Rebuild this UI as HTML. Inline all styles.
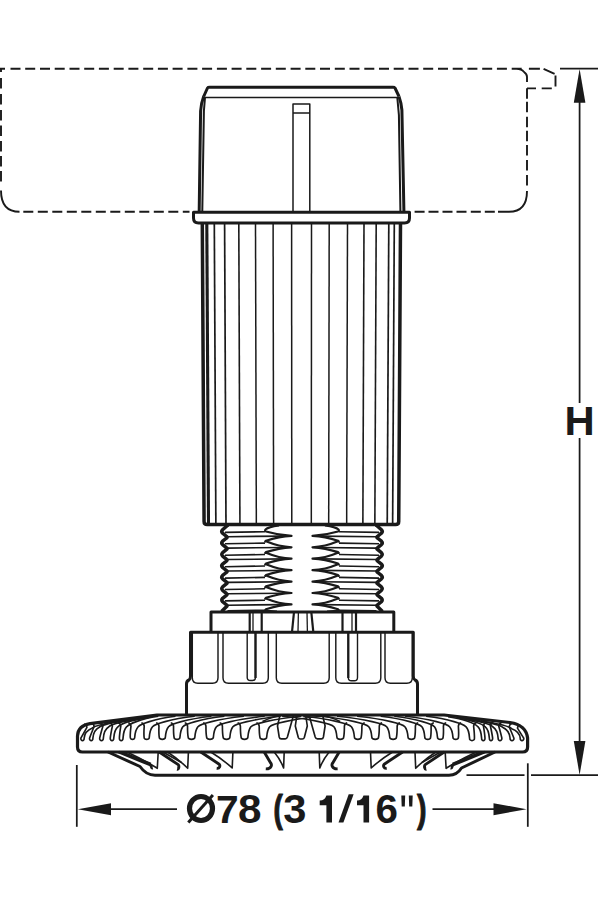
<!DOCTYPE html>
<html><head><meta charset="utf-8"><style>
html,body{margin:0;padding:0;background:#fff;width:600px;height:900px;overflow:hidden;}
svg{display:block;}
</style></head><body>
<svg width="600" height="900" viewBox="0 0 600 900" fill="none" stroke="#1a1a1a" stroke-linecap="butt" stroke-linejoin="round">
<path stroke-width="1.9" d="M0,68.8 L5,68.8 M1.0,67.9 L1.0,72 M10.5,68.8 L20.5,68.8 M25.2,68.8 L35.2,68.8 M40.0,68.8 L50.0,68.8 M54.7,68.8 L64.7,68.8 M69.5,68.8 L79.5,68.8 M84.2,68.8 L94.2,68.8 M98.9,68.8 L108.9,68.8 M113.7,68.8 L123.7,68.8 M128.4,68.8 L138.4,68.8 M143.2,68.8 L153.2,68.8 M157.9,68.8 L167.9,68.8 M172.6,68.8 L182.6,68.8 M187.4,68.8 L197.4,68.8 M202.1,68.8 L212.1,68.8 M216.9,68.8 L226.9,68.8 M231.6,68.8 L241.6,68.8 M246.3,68.8 L256.3,68.8 M261.1,68.8 L271.1,68.8 M275.8,68.8 L285.8,68.8 M290.6,68.8 L300.6,68.8 M305.3,68.8 L315.3,68.8 M320.0,68.8 L330.0,68.8 M334.8,68.8 L344.8,68.8 M349.5,68.8 L359.5,68.8 M364.3,68.8 L374.3,68.8 M379.0,68.8 L389.0,68.8 M393.7,68.8 L403.7,68.8 M408.5,68.8 L418.5,68.8 M423.2,68.8 L433.2,68.8 M438.0,68.8 L448.0,68.8 M452.7,68.8 L462.7,68.8 M467.4,68.8 L477.4,68.8 M482.2,68.8 L492.2,68.8 M496.9,68.8 L506.9,68.8 M511.7,68.8 L521.7,68.8 M516.5,68.8 Q521.5,68.8 524,72 M528.9,68.8 L539.9,68.8 M543.6,68.8 L554.6,73.8 M555.5,75.6 L555.5,86.6 M541.7,88.4 L551.8,88.4 M527,88.4 L536,88.4 M524,72 Q527,74 527,77 L527,82 M527.0,88.3 L527.0,98.8 M527.0,101.7 L527.0,112.2 M527.0,116.7 L527.0,127.2 M527.0,130.8 L527.0,141.3 M527.0,145.0 L527.0,155.5 M527.0,160.0 L527.0,170.5 M527.0,175.0 L527.0,185.5 M527.0,191 Q527.0,211.8 509,211.8 M1.0,78.0 L1.0,88.5 M1.0,94.0 L1.0,104.5 M1.0,110.0 L1.0,120.5 M1.0,125.5 L1.0,136.0 M1.0,141.0 L1.0,151.5 M1.0,156.0 L1.0,166.5 M1.0,171.0 L1.0,181.5 M1.0,190.5 Q1.0,211.8 19.5,211.8 M23.3,211.8 L33.3,211.8 M37.8,211.8 L47.8,211.8 M52.3,211.8 L62.3,211.8 M66.8,211.8 L76.8,211.8 M81.3,211.8 L91.3,211.8 M95.8,211.8 L105.8,211.8 M110.3,211.8 L120.3,211.8 M124.8,211.8 L134.8,211.8 M139.3,211.8 L149.3,211.8 M153.8,211.8 L163.8,211.8 M168.3,211.8 L178.3,211.8 M182.8,211.8 L189.5,211.8 M414.6,211.8 L424.6,211.8 M428.5,211.8 L438.5,211.8 M442.5,211.8 L452.5,211.8 M456.5,211.8 L466.5,211.8 M470.8,211.8 L480.8,211.8 M484.8,211.8 L494.8,211.8 M498,211.8 L509,211.8"/>
<g stroke-width="1.75">
<line x1="560" y1="68.7" x2="598" y2="68.7"/>
<line x1="579.6" y1="100" x2="579.6" y2="402.9"/>
<line x1="579.6" y1="438.1" x2="579.6" y2="744"/>
<line x1="466.5" y1="775.2" x2="524.5" y2="775.2"/>
<line x1="531" y1="775.2" x2="598" y2="775.2"/>
<line x1="527.8" y1="763.3" x2="527.8" y2="826.8"/>
<line x1="76.8" y1="765" x2="76.8" y2="826.8"/>
<line x1="100" y1="809.2" x2="177" y2="809.2"/>
<line x1="432.5" y1="809.2" x2="505" y2="809.2"/>
</g>
<g fill="#1a1a1a" stroke="none">
<polygon points="579.6,69 573.8,102.8 585.4,102.8"/>
<polygon points="579.6,775 573.8,741 585.4,741"/>
<polygon points="77.8,809.2 111,803.2 111,815.2"/>
<polygon points="526.6,809.2 493.5,803.2 493.5,815.2"/>
</g>
<g fill="#1a1a1a">
<g font-family="Liberation Sans, sans-serif" font-weight="bold" stroke="none">
<text transform="translate(564.40,434.80) scale(1.0101,1)" font-size="41.43">H</text>
<text transform="translate(216.00,822.50) scale(1.0361,1)" font-size="39.39">7</text>
<text transform="translate(238.06,822.51) scale(1.0567,1)" font-size="39.97">8</text>
<text transform="translate(273.41,822.10) scale(0.7350,1)" font-size="38.08" stroke="#1a1a1a" stroke-width="1.2">(</text>
<text transform="translate(283.34,822.85) scale(1.0331,1)" font-size="40.31">3</text>
<text transform="translate(375.52,822.61) scale(1.0021,1)" font-size="40.25">6</text>
<text transform="translate(416.97,822.10) scale(0.7443,1)" font-size="38.08" stroke="#1a1a1a" stroke-width="1.2">)</text>
</g>
<ellipse cx="201" cy="808.5" rx="11.5" ry="12.0" fill="none" stroke="#1a1a1a" stroke-width="5.2"/>
<line x1="188.3" y1="822.6" x2="212.9" y2="795.0" stroke="#1a1a1a" stroke-width="3.0"/>
<path stroke="none" d="M326.40,795.5 L332.00,795.5 L332.00,822.5 L326.40,822.5 L326.40,805.2 L319.70,805.2 L319.70,800.6 Q324.90,800.3 326.40,795.5 Z"/>
<path stroke="none" d="M363.50,795.5 L369.10,795.5 L369.10,822.5 L363.50,822.5 L363.50,805.2 L357.00,805.2 L357.00,800.6 Q362.00,800.3 363.50,795.5 Z"/>
<path stroke="none" d="M338.5,822.5 L343.4,822.5 L353.6,794.3 L348.7,794.3 Z"/>
<path stroke="none" d="M401.3,795.5 L405.2,795.5 L404.8,806.5 L401.7,806.5 Z M408.8,795.5 L412.7,795.5 L412.3,806.5 L409.2,806.5 Z"/>
</g>
<g stroke-width="3.0">
<path d="M203.7,96.5 L207.5,88 Q208,87.3 209.5,87.3 L393,87.3 Q394.5,87.3 395,88 L399,96.5"/>
<path d="M203.7,96.3 Q201.2,103 200.6,111 L199.2,211"/>
<path d="M399,96.5 Q401.3,103 401.9,110 L403.9,211"/>
</g>
<g stroke-width="2.0">
<path d="M205,97.5 L203.9,111 L202.3,211"/>
<path d="M397.3,97.5 L398.9,115 L400.4,211"/>
</g>
<g stroke-width="1.5">
<line x1="204" y1="97.6" x2="398" y2="97.6"/>
<path d="M293,212 L293,104 L309.8,104 L309.8,212 M293,113 L309.8,113"/>
</g>
<path stroke-width="3.0" d="M193.5,212.2 L409.5,212.2 L409.5,218 Q409.5,223 404.5,223 L198.5,223 Q193.5,223 193.5,218 Z"/>
<path stroke-width="3.5" d="M202.30,223 L204.07,521.5 Q204.09,524.5 207.09,524.5 L395.71,524.5 Q398.71,524.5 398.73,521.5 L400.50,223"/>
<g>
<line x1="206.80" y1="223" x2="208.50" y2="524" stroke-width="3.1"/>
<line x1="214.30" y1="223" x2="215.87" y2="524" stroke-width="1.7"/>
<line x1="224.60" y1="223" x2="225.98" y2="524" stroke-width="1.7"/>
<line x1="238.80" y1="223" x2="239.93" y2="524" stroke-width="1.6"/>
<line x1="255.50" y1="223" x2="256.33" y2="524" stroke-width="1.5"/>
<line x1="273.10" y1="223" x2="273.61" y2="524" stroke-width="1.5"/>
<line x1="291.60" y1="223" x2="291.78" y2="524" stroke-width="1.5"/>
<line x1="311.50" y1="223" x2="311.32" y2="524" stroke-width="1.5"/>
<line x1="329.20" y1="223" x2="328.70" y2="524" stroke-width="1.5"/>
<line x1="347.50" y1="223" x2="346.67" y2="524" stroke-width="1.5"/>
<line x1="364.00" y1="223" x2="362.87" y2="524" stroke-width="1.6"/>
<line x1="376.20" y1="223" x2="374.85" y2="524" stroke-width="1.6"/>
<line x1="388.80" y1="223" x2="387.23" y2="524" stroke-width="1.7"/>
<line x1="394.30" y1="223" x2="392.63" y2="524" stroke-width="1.7"/>
</g>
<path stroke-width="2.2" d="M279.0,525.3 Q268.0,527 265.8,529.2 Q264.3,530.7 266.0,531.5 Q279.0,535.3 291.5,535.9 Q279.0,536.5 266.0,540.7 Q264.3,542.1 266.0,541.3 Q279.0,546.7 291.5,547.3 Q279.0,547.9 266.0,552.1 Q264.3,553.5 266.0,552.7 Q279.0,558.1 291.5,558.7 Q279.0,559.3 266.0,563.5 Q264.3,565.0 266.0,564.2 Q279.0,569.6 291.5,570.2 Q279.0,570.8 266.0,575.0 Q264.3,576.4 266.0,575.6 Q279.0,581.0 291.5,581.6 Q279.0,582.2 266.0,586.4 Q264.3,587.8 266.0,587.0 Q279.0,592.4 291.5,593.0 Q279.0,593.6 266.0,597.8 Q264.3,599.2 266.0,598.4 Q279.0,603.8 291.5,604.4 Q279.0,605.0 266.0,609.2 Q264.3,610.2 267.0,610.9 L277.0,611.5"/>
<path stroke-width="1.6" d="M225.0,532.4 L265.0,531.7 M227.5,536.7 L285.0,536.1 M225.0,543.8 L265.0,543.1 M227.5,548.1 L285.0,547.5 M225.0,555.2 L265.0,554.5 M227.5,559.5 L285.0,558.9 M225.0,566.7 L265.0,566.0 M227.5,571.0 L285.0,570.4 M225.0,578.1 L265.0,577.4 M227.5,582.4 L285.0,581.8 M225.0,589.5 L265.0,588.8 M227.5,593.8 L285.0,593.2 M225.0,600.9 L265.0,600.2 M227.5,605.2 L285.0,604.6 M227.5,610.8 L265.5,610.2 "/>
<path stroke-width="3.5" d="M228.50,525 L227.60,525.30 L222.60,529.80 Q220.90,531.50 222.60,533.20 L226.60,536.50 Q227.60,537.25 226.60,538.00 L222.60,541.22 Q220.90,542.92 222.60,544.62 L226.60,547.92 Q227.60,548.67 226.60,549.42 L222.60,552.64 Q220.90,554.34 222.60,556.04 L226.60,559.34 Q227.60,560.09 226.60,560.84 L222.60,564.06 Q220.90,565.76 222.60,567.46 L226.60,570.76 Q227.60,571.51 226.60,572.26 L222.60,575.48 Q220.90,577.18 222.60,578.88 L226.60,582.18 Q227.60,582.93 226.60,583.68 L222.60,586.90 Q220.90,588.60 222.60,590.30 L226.60,593.60 Q227.60,594.35 226.60,595.10 L222.60,598.32 Q220.90,600.02 222.60,601.72 L226.60,605.02 Q227.60,605.77 226.60,606.52 L221.50,611.5"/>
<path stroke-width="2.2" d="M325.0,525.3 Q336.0,527 338.2,529.2 Q339.7,530.7 338.0,531.5 Q325.0,535.3 312.5,535.9 Q325.0,536.5 338.0,540.7 Q339.7,542.1 338.0,541.3 Q325.0,546.7 312.5,547.3 Q325.0,547.9 338.0,552.1 Q339.7,553.5 338.0,552.7 Q325.0,558.1 312.5,558.7 Q325.0,559.3 338.0,563.5 Q339.7,565.0 338.0,564.2 Q325.0,569.6 312.5,570.2 Q325.0,570.8 338.0,575.0 Q339.7,576.4 338.0,575.6 Q325.0,581.0 312.5,581.6 Q325.0,582.2 338.0,586.4 Q339.7,587.8 338.0,587.0 Q325.0,592.4 312.5,593.0 Q325.0,593.6 338.0,597.8 Q339.7,599.2 338.0,598.4 Q325.0,603.8 312.5,604.4 Q325.0,605.0 338.0,609.2 Q339.7,610.2 337.0,610.9 L327.0,611.5"/>
<path stroke-width="1.6" d="M379.0,532.4 L339.0,531.7 M376.5,536.7 L319.0,536.1 M379.0,543.8 L339.0,543.1 M376.5,548.1 L319.0,547.5 M379.0,555.2 L339.0,554.5 M376.5,559.5 L319.0,558.9 M379.0,566.7 L339.0,566.0 M376.5,571.0 L319.0,570.4 M379.0,578.1 L339.0,577.4 M376.5,582.4 L319.0,581.8 M379.0,589.5 L339.0,588.8 M376.5,593.8 L319.0,593.2 M379.0,600.9 L339.0,600.2 M376.5,605.2 L319.0,604.6 M376.5,610.8 L338.5,610.2 "/>
<path stroke-width="3.5" d="M375.50,525 L376.40,525.30 L381.40,529.80 Q383.10,531.50 381.40,533.20 L377.40,536.50 Q376.40,537.25 377.40,538.00 L381.40,541.22 Q383.10,542.92 381.40,544.62 L377.40,547.92 Q376.40,548.67 377.40,549.42 L381.40,552.64 Q383.10,554.34 381.40,556.04 L377.40,559.34 Q376.40,560.09 377.40,560.84 L381.40,564.06 Q383.10,565.76 381.40,567.46 L377.40,570.76 Q376.40,571.51 377.40,572.26 L381.40,575.48 Q383.10,577.18 381.40,578.88 L377.40,582.18 Q376.40,582.93 377.40,583.68 L381.40,586.90 Q383.10,588.60 381.40,590.30 L377.40,593.60 Q376.40,594.35 377.40,595.10 L381.40,598.32 Q383.10,600.02 381.40,601.72 L377.40,605.02 Q376.40,605.77 377.40,606.52 L382.50,611.5"/>
<g stroke-width="3.0">
<path d="M211,632 L211,612 L393.8,612 L393.8,632"/>
<path d="M186.5,714 L186.5,684 Q186.5,681 189,680 Q190.5,679 190.5,676 L190.5,632.2 L413.3,632.2 L413.3,676 Q413.3,679 415,680 Q417.5,681 417.5,684 L417.5,714"/>
</g>
<g stroke-width="2.2">
<line x1="249.7" y1="612" x2="249.7" y2="632"/>
<line x1="261.7" y1="612" x2="261.7" y2="632"/>
<line x1="294" y1="612" x2="292" y2="632"/>
<line x1="311.3" y1="612" x2="313.3" y2="632"/>
<line x1="342.5" y1="612" x2="342.5" y2="632"/>
<line x1="356" y1="612" x2="356" y2="632"/>
</g>
<g stroke-width="1.3">
<line x1="253" y1="612" x2="253" y2="632"/>
<line x1="298.4" y1="612" x2="298" y2="632"/>
<line x1="307" y1="612" x2="307.4" y2="632"/>
<line x1="352" y1="612" x2="352" y2="632"/>
</g>
<g stroke-width="1.45">
<path d="M192.3,632 L192.3,677.7 Q192.3,683.2 197.8,683.2 L212.5,683.2 Q218.0,683.2 218.0,677.7 L218.0,632"/>
<path d="M223.0,632 L223.0,677.7 Q223.0,683.2 228.5,683.2 L262.8,683.2 Q268.3,683.2 268.3,677.7 L268.3,632"/>
<path d="M276.3,632 L276.3,677.7 Q276.3,683.2 281.8,683.2 L323.7,683.2 Q329.2,683.2 329.2,677.7 L329.2,632"/>
<path d="M335.8,632 L335.8,677.7 Q335.8,683.2 341.3,683.2 L375.3,683.2 Q380.8,683.2 380.8,677.7 L380.8,632"/>
<path d="M385.0,632 L385.0,677.7 Q385.0,683.2 390.5,683.2 L406.8,683.2 Q412.3,683.2 412.3,677.7 L412.3,632"/>
</g>
<path stroke-width="1.4" d="M247.2,632 L247.2,677.5 Q247.2,680.5 250.5,680.5 L252.5,680.5 Q255.5,680.5 255.5,677.5 L255.5,632"/>
<line stroke-width="2.3" x1="255.5" y1="632" x2="255.5" y2="678"/>
<path stroke-width="1.4" d="M348.3,632 L348.3,677.5 Q348.3,680.8 351.5,680.8 L354.3,680.8 Q357.5,680.8 357.5,677.5 L357.5,632"/>
<line stroke-width="2.3" x1="348.3" y1="632" x2="348.3" y2="678"/>
<path stroke-width="3.2" d="M157,715 L444,715 L510,722.5 Q526,725 527.6,738 L527.6,747 Q527.6,752 522.5,752 L82.5,752 Q77.5,752 77.5,747 L77.5,736 Q78,725.5 90,723.6 L157,715 Z"/>
<path stroke-width="3.0" d="M108,752 L140,766.5 Q146,775.2 155,775.2 L449,775.2 Q457,775.2 461.5,768 L495,752"/>
<g stroke-width="1.65">
<path d="M84.12,724.02 Q86.62,724.42 86.92,727.42 Q82.88,734.61 80.85,738.20 C80.65,741.40 84.35,741.40 84.15,738.20 Q84.75,730.92 92.39,727.92 C94.89,725.22 104.19,723.47 121.89,720.47"/>
<path d="M91.33,723.04 Q93.83,723.44 94.13,726.44 Q90.96,734.12 89.52,738.20 C89.32,741.40 93.08,741.40 92.88,738.20 Q93.48,729.94 99.67,726.94 C102.17,724.24 111.61,722.61 129.52,719.61"/>
<path d="M100.09,722.80 Q102.59,723.20 102.89,726.20 Q100.55,734.00 99.66,738.20 C99.46,741.40 103.54,741.40 103.34,738.20 Q103.94,729.70 108.89,726.70 C111.39,724.00 121.66,721.33 140.81,718.33"/>
<path d="M109.60,722.80 Q112.10,723.20 112.40,726.20 Q110.71,734.00 110.26,738.20 C110.06,741.40 113.94,741.40 113.74,738.20 Q114.34,729.70 118.12,726.70 C120.62,724.00 130.38,720.43 148.77,717.43"/>
<path d="M117.99,722.80 Q120.49,723.20 120.79,726.20 Q119.55,734.00 119.39,738.20 C119.19,741.40 123.21,741.40 123.01,738.20 Q123.61,729.70 126.72,726.70 C129.22,724.00 139.35,719.30 158.29,716.30"/>
<path d="M128.17,722.80 Q130.67,723.20 130.97,726.20 Q130.14,733.40 130.25,737.00 C130.05,740.20 134.95,740.20 134.75,737.00 Q135.35,729.70 138.17,726.70 C140.67,724.00 153.10,719.30 175.50,716.30"/>
<path d="M141.41,722.80 Q143.91,723.20 144.21,726.20 Q143.72,733.40 144.07,737.00 C143.87,740.20 149.53,740.20 149.33,737.00 Q149.93,729.70 152.50,726.70 C155.00,724.00 169.41,719.30 194.77,716.30"/>
<path d="M156.15,722.80 Q158.65,723.20 158.95,726.20 Q158.71,733.40 159.21,737.00 C159.01,740.20 165.59,740.20 165.39,737.00 Q165.99,729.70 168.56,726.70 C171.06,724.00 185.70,719.30 211.41,716.30"/>
<path d="M170.75,722.80 Q173.25,723.20 173.55,726.20 Q173.43,733.40 174.02,737.00 C173.82,740.20 180.18,740.20 179.98,737.00 Q180.58,729.70 182.83,726.70 C185.33,724.00 199.47,719.30 224.41,716.30"/>
<path d="M184.74,722.80 Q187.24,723.20 187.54,726.20 Q187.50,733.40 188.13,737.00 C187.93,740.20 195.07,740.20 194.87,737.00 Q195.47,729.70 197.94,726.70 C200.44,724.00 216.32,719.30 243.89,716.30"/>
<path d="M203.14,722.80 Q205.64,723.20 205.94,726.20 Q205.93,733.40 206.60,737.00 C206.40,740.20 213.60,740.20 213.40,737.00 Q214.00,729.70 216.44,726.70 C218.94,724.00 235.74,719.30 264.69,716.30"/>
<path d="M219.61,722.80 Q222.11,723.20 222.41,726.20 Q222.42,733.40 223.10,737.00 C222.90,740.20 230.10,740.20 229.90,737.00 Q230.50,729.70 232.91,726.70 C235.41,724.00 251.98,719.30 280.59,716.30"/>
<path d="M237.60,722.80 Q240.10,723.20 240.40,726.20 Q240.42,733.40 241.10,737.00 C240.90,740.20 248.10,740.20 247.90,737.00 Q248.50,729.70 250.90,726.70 C253.40,724.00 271.03,719.30 301.22,716.30"/>
<path d="M256.40,722.80 Q258.90,723.20 259.20,726.20 Q259.22,733.40 259.90,737.00 C259.70,740.20 266.90,740.20 266.70,737.00 Q267.30,729.70 269.70,726.70 C272.20,724.00 290.61,719.30 321.98,716.30"/>
<path d="M279.8,716 L277.5,726 L279.2,737 Q279.6,738.9 281.2,738.9 L285.2,738.9 Q286.8,738.9 287.4,737 L293.3,716"/>
<path d="M262.5,721.5 Q272.0,717 279.5,715.8"/>
<path d="M296.8,716 L295.3,726 L298.3,737.5 Q298.8,739 300.3,739 L302.3,739 Q303.8,739 304.3,737.5 L307.3,726 L305.8,716"/>
<path d="M322.8,716 L325.1,726 L323.4,737 Q323.0,738.9 321.4,738.9 L317.4,738.9 Q315.8,738.9 315.2,737 L309.3,716"/>
<path d="M340.1,721.5 Q330.6,717 323.1,715.8"/>
<path d="M347.20,722.80 Q344.70,723.20 344.40,726.20 Q344.38,733.40 343.70,737.00 C343.90,740.20 336.70,740.20 336.90,737.00 Q336.30,729.70 333.90,726.70 C331.40,724.00 313.22,719.30 282.20,716.30"/>
<path d="M364.70,722.80 Q362.20,723.20 361.90,726.20 Q361.88,733.40 361.20,737.00 C361.40,740.20 354.20,740.20 354.40,737.00 Q353.80,729.70 351.40,726.70 C348.90,724.00 332.14,719.30 303.26,716.30"/>
<path d="M382.09,722.80 Q379.59,723.20 379.29,726.20 Q379.28,733.40 378.60,737.00 C378.80,740.20 371.60,740.20 371.80,737.00 Q371.20,729.70 368.79,726.70 C366.29,724.00 349.35,719.30 320.19,716.30"/>
<path d="M399.96,722.80 Q397.46,723.20 397.16,726.20 Q397.17,733.40 396.50,737.00 C396.70,740.20 389.50,740.20 389.70,737.00 Q389.10,729.70 386.66,726.70 C384.16,724.00 366.81,719.30 337.03,716.30"/>
<path d="M418.19,722.80 Q415.69,723.20 415.39,726.20 Q415.44,733.40 414.80,737.00 C415.00,740.20 407.80,740.20 408.00,737.00 Q407.40,729.70 404.89,726.70 C402.39,724.00 385.77,719.30 357.10,716.30"/>
<path d="M433.90,722.80 Q431.40,723.20 431.10,726.20 Q431.23,733.40 430.65,737.00 C430.85,740.20 424.55,740.20 424.75,737.00 Q424.15,729.70 421.90,726.70 C419.40,724.00 405.41,719.30 380.66,716.30"/>
<path d="M446.21,722.80 Q443.71,723.20 443.41,726.20 Q443.66,733.40 443.16,737.00 C443.36,740.20 437.24,740.20 437.44,737.00 Q436.84,729.70 434.48,726.70 C431.98,724.00 418.40,719.30 394.28,716.30"/>
<path d="M461.17,722.80 Q458.67,723.20 458.37,726.20 Q458.85,733.40 458.50,737.00 C458.70,740.20 452.70,740.20 452.90,737.00 Q452.30,729.70 449.59,726.70 C447.09,724.00 431.81,719.30 405.13,716.30"/>
<path d="M476.41,722.80 Q473.91,723.20 473.61,726.20 Q474.51,734.00 474.44,738.20 C474.64,741.40 469.36,741.40 469.56,738.20 Q468.96,729.70 465.88,726.70 C463.38,724.00 449.98,719.30 426.14,716.30"/>
<path d="M486.24,722.80 Q483.74,723.20 483.44,726.20 Q484.76,734.00 484.98,738.20 C485.18,741.40 481.42,741.40 481.62,738.20 Q481.02,729.70 477.89,726.70 C475.39,724.00 465.95,719.79 448.04,716.79"/>
<path d="M493.25,722.80 Q490.75,723.20 490.45,726.20 Q492.16,734.00 492.63,738.20 C492.83,741.40 489.17,741.40 489.37,738.20 Q488.77,729.70 485.05,726.70 C482.55,724.00 474.17,720.96 457.85,717.96"/>
<path d="M501.56,722.80 Q499.06,723.20 498.76,726.20 Q501.02,734.00 501.86,738.20 C502.06,741.40 497.94,741.40 498.14,738.20 Q497.54,729.70 492.71,726.70 C490.21,724.00 479.85,721.29 460.56,718.29"/>
<path d="M512.04,723.56 Q509.54,723.96 509.24,726.96 Q512.46,734.38 513.94,738.20 C514.14,741.40 509.86,741.40 510.06,738.20 Q509.46,730.46 502.94,727.46 C500.44,724.76 489.62,722.38 469.64,719.38"/>
<path d="M520.27,724.76 Q517.77,725.16 517.47,728.16 Q521.65,734.98 523.77,738.20 C523.97,741.40 520.03,741.40 520.23,738.20 Q519.63,731.66 511.67,728.66 C509.17,725.96 499.27,723.70 480.67,720.70"/>
</g>
<path stroke-width="2.9" d="M118.50,752 L150.50,765.00 C151.80,766.60 151.10,768.40 152.80,768.00"/>
<path stroke-width="1.6" d="M127.00,752 Q143.65,759.65 157.30,768.30 L158.20,752"/>
<path stroke-width="1.6" d="M122.50,752 Q137.75,758.25 151.00,763.50"/>
<path stroke-width="2.9" d="M484.90,752 L452.90,765.00 C451.60,766.60 452.30,768.40 450.60,768.00"/>
<path stroke-width="1.6" d="M476.40,752 Q459.75,759.65 446.10,768.30 L445.20,752"/>
<path stroke-width="1.6" d="M480.90,752 Q465.65,758.25 452.40,763.50"/>
<path stroke-width="2.9" d="M159.20,752 L178.20,764.60 C179.50,766.20 178.80,769.70 177.00,769.30"/>
<path stroke-width="1.6" d="M167.50,752 Q179.10,759.65 187.70,768.30 L188.40,752"/>
<path stroke-width="1.6" d="M162.80,752 Q173.15,757.75 181.50,762.50"/>
<path stroke-width="2.9" d="M444.20,752 L425.20,764.60 C423.90,766.20 424.60,769.70 426.40,769.30"/>
<path stroke-width="1.6" d="M435.90,752 Q424.30,759.65 415.70,768.30 L415.00,752"/>
<path stroke-width="1.6" d="M440.60,752 Q430.25,757.75 421.90,762.50"/>
<path stroke-width="2.9" d="M200.80,752 L219.20,764.20 C220.50,765.80 219.80,768.70 216.70,768.30"/>
<path stroke-width="1.6" d="M210.80,752 Q223.00,759.50 232.20,768.00 L232.90,752"/>
<path stroke-width="2.9" d="M402.60,752 L384.20,764.20 C382.90,765.80 383.60,768.70 386.70,768.30"/>
<path stroke-width="1.6" d="M392.60,752 Q380.40,759.50 371.20,768.00 L370.50,752"/>
<path stroke-width="2.9" d="M264.20,752 L270.80,763.20 C272.10,764.80 271.40,769.20 265.80,768.80"/>
<path stroke-width="1.6" d="M274.20,752 Q280.40,759.50 283.60,768.00 L284.20,752"/>
<path stroke-width="2.9" d="M339.20,752 L332.60,763.20 C331.30,764.80 332.00,769.20 337.60,768.80"/>
<path stroke-width="1.6" d="M329.20,752 Q323.00,759.50 319.80,768.00 L319.20,752"/>
</svg>
</body></html>
